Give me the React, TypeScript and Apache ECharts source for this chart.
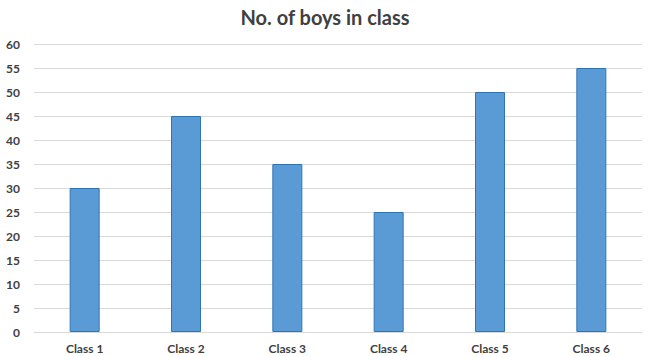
import React, { useEffect, useRef } from "react";
import * as echarts from "echarts";

const categories = ["Class 1", "Class 2", "Class 3", "Class 4", "Class 5", "Class 6"];
const boys = [30, 45, 35, 25, 50, 55];
const titleText = "No. of boys in class";

export default function App() {
  const ref = useRef<HTMLDivElement>(null);
  useEffect(() => {
    const chart = echarts.init(ref.current!, null, { renderer: "svg" });
    chart.setOption({
      animation: false,
      backgroundColor: "#ffffff",
      title: {
        text: titleText,
        left: "center",
        top: 2,
        textStyle: { fontFamily: "Lato", fontSize: 20, fontWeight: "bold", color: "#404040" },
      },
      grid: { left: 34, right: 8, top: 44, bottom: 25, containLabel: false },
      xAxis: {
        type: "category",
        data: categories,
        axisLine: { lineStyle: { color: "#d9d9d9" } },
        axisTick: { show: false },
        axisLabel: { fontFamily: "Lato", fontSize: 12, fontWeight: "bold", color: "#404040", margin: 10 },
      },
      yAxis: {
        type: "value",
        min: 0,
        max: 60,
        interval: 5,
        axisLine: { show: false },
        axisTick: { show: false },
        splitLine: { lineStyle: { color: "#d9d9d9", width: 1 } },
        axisLabel: { fontFamily: "Lato", fontSize: 12, fontWeight: "bold", color: "#404040", margin: 14 },
      },
      series: [
        {
          type: "bar",
          data: boys,
          barWidth: 30,
          itemStyle: { color: "#5b9bd5", borderColor: "#2e75b6", borderWidth: 1 },
        },
      ],
    });
    return () => chart.dispose();
  }, []);
  return <div ref={ref} style={{ position: "absolute", left: 0, top: 0, width: 650, height: 357 }} />;
}
